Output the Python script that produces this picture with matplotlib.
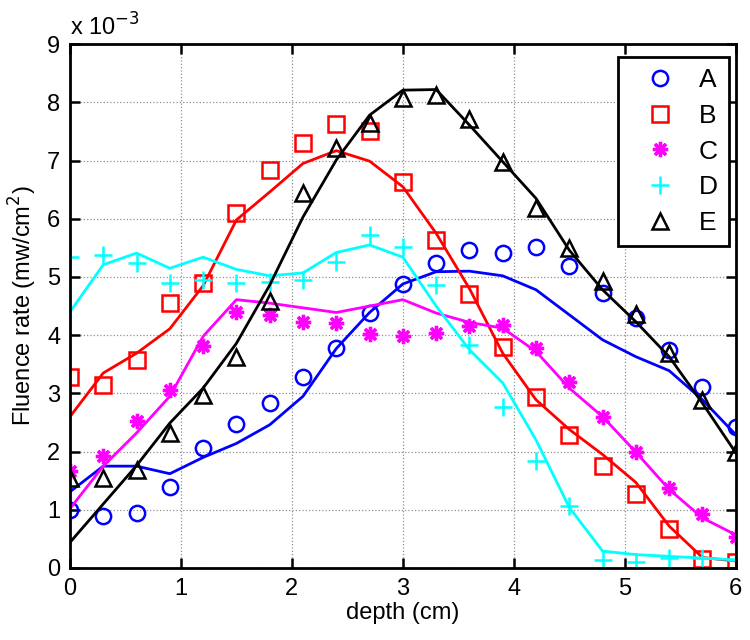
import numpy as np
import matplotlib
matplotlib.use("Agg")
import matplotlib.pyplot as plt

plt.rcParams['font.family'] = ['Liberation Sans', 'DejaVu Sans']

depth = [0.0, 0.3, 0.6, 0.9, 1.2, 1.5, 1.8, 2.1, 2.4, 2.7, 3.0,
         3.3, 3.6, 3.9, 4.2, 4.5, 4.8, 5.1, 5.4, 5.7, 6.0]

# measured points (units of 1e-3 mw/cm^2)
A_pts = [0.99, 0.90, 0.95, 1.40, 2.07, 2.48, 2.84, 3.28, 3.78, 4.38, 4.88,
         5.24, 5.46, 5.41, 5.51, 5.19, 4.73, 4.30, 3.75, 3.11, 2.43]
B_pts = [3.28, 3.15, 3.57, 4.55, 4.90, 6.10, 6.84, 7.31, 7.62, 7.50, 6.64,
         5.63, 4.70, 3.80, 2.93, 2.28, 1.76, 1.27, 0.67, 0.16, 0.10]
C_pts = [1.66, 1.92, 2.52, 3.06, 3.82, 4.39, 4.35, 4.22, 4.21, 4.02, 3.99,
         4.04, 4.15, 4.18, 3.78, 3.20, 2.59, 1.99, 1.38, 0.93, 0.54]
D_pts = [5.35, 5.38, 5.24, 4.90, 4.95, 4.89, 4.92, 4.95, 5.25, 5.72, 5.52,
         4.86, 3.83, 2.76, 1.83, 1.06, 0.13, 0.11, 0.17, 0.17, 0.14]
E_pts = [1.55, 1.55, 1.68, 2.32, 2.98, 3.62, 4.59, 6.45, 7.22, 7.65, 8.08,
         8.13, 7.72, 6.97, 6.18, 5.49, 4.93, 4.37, 3.69, 2.89, 1.99]

# fitted curves (units of 1e-3 mw/cm^2)
A_fit = [1.31, 1.75, 1.75, 1.62, 1.90, 2.14, 2.46, 2.95, 3.77, 4.39, 4.88,
         5.09, 5.10, 5.02, 4.78, 4.35, 3.92, 3.63, 3.39, 2.89, 2.29]
B_fit = [2.60, 3.35, 3.69, 4.11, 4.85, 5.98, 6.46, 6.95, 7.17, 6.99, 6.55,
         5.75, 4.80, 3.69, 2.89, 2.38, 1.95, 1.47, 0.72, 0.18, 0.12]
C_fit = [1.02, 1.75, 2.32, 2.95, 3.98, 4.61, 4.55, 4.47, 4.39, 4.50, 4.61,
         4.38, 4.22, 4.12, 3.72, 3.09, 2.60, 1.99, 1.35, 0.86, 0.57]
D_fit = [4.40, 5.21, 5.41, 5.15, 5.34, 5.13, 5.02, 5.07, 5.42, 5.55, 5.34,
         4.50, 3.75, 3.18, 2.20, 1.04, 0.29, 0.23, 0.20, 0.17, 0.14]
E_fit = [0.44, 1.10, 1.76, 2.49, 3.09, 3.86, 4.86, 6.03, 7.01, 7.78, 8.21,
         8.22, 7.61, 6.98, 6.35, 5.46, 4.78, 4.23, 3.63, 2.83, 1.98]

labels = ['A', 'B', 'C', 'D', 'E']
colors = ['#0000ff', '#ff0000', '#ff00ff', '#00ffff', '#000000']
markers = ['o', 's', 'star', '+', '^']

fig = plt.figure(figsize=(7.5, 6.4), dpi=100)
ax = fig.add_axes([0.0933, 0.1125, 0.8877, 0.8185])

pts = [A_pts, B_pts, C_pts, D_pts, E_pts]
fits = [A_fit, B_fit, C_fit, D_fit, E_fit]
handles = []
for p, f, lab, c, m in zip(pts, fits, labels, colors, markers):
    if m == 'star':
        h, = ax.plot(depth, p, linestyle='none', marker=(8, 2, 0), markersize=11,
                     markerfacecolor=c, markeredgecolor=c, markeredgewidth=2.4, label=lab)
    elif m == '+':
        h, = ax.plot(depth, p, linestyle='none', marker=m, markersize=13,
                     markeredgecolor=c, markeredgewidth=1.8, label=lab)
    else:
        h, = ax.plot(depth, p, linestyle='none', marker=m, markersize=11,
                     markerfacecolor='none', markeredgecolor=c, markeredgewidth=1.8, label=lab)
    handles.append(h)
    ax.plot(depth, f, color=c, linewidth=2.0)

ax.set_xlim(0, 6)
ax.set_ylim(0, 9)
ax.set_xticks(range(0, 7))
ax.set_yticks(range(0, 10))
ax.grid(True, linestyle=':', color='#909090', linewidth=0.9)
ax.tick_params(direction='in', length=7, width=1.8, top=True, right=True,
               labelsize=17, pad=7)
for s in ax.spines.values():
    s.set_linewidth(2.0)

ax.set_xlabel('depth (cm)', fontsize=17, labelpad=2)
ax.set_ylabel('Fluence rate (mw/cm$^2$)', fontsize=17, labelpad=6)
ax.text(0.0, 1.017, 'x 10$^{-3}$', transform=ax.transAxes, fontsize=17,
        ha='left', va='baseline')

leg = ax.legend(handles=handles, loc='upper right', bbox_to_anchor=(0.9895, 0.975),
                fontsize=19, frameon=True, fancybox=False, edgecolor='black',
                framealpha=1, borderaxespad=0.0, handletextpad=0.32,
                labelspacing=0.44, markerfirst=True, handlelength=2.3,
                borderpad=0.42)
leg.get_frame().set_linewidth(2.0)

fig.savefig('out.png', dpi=100)
